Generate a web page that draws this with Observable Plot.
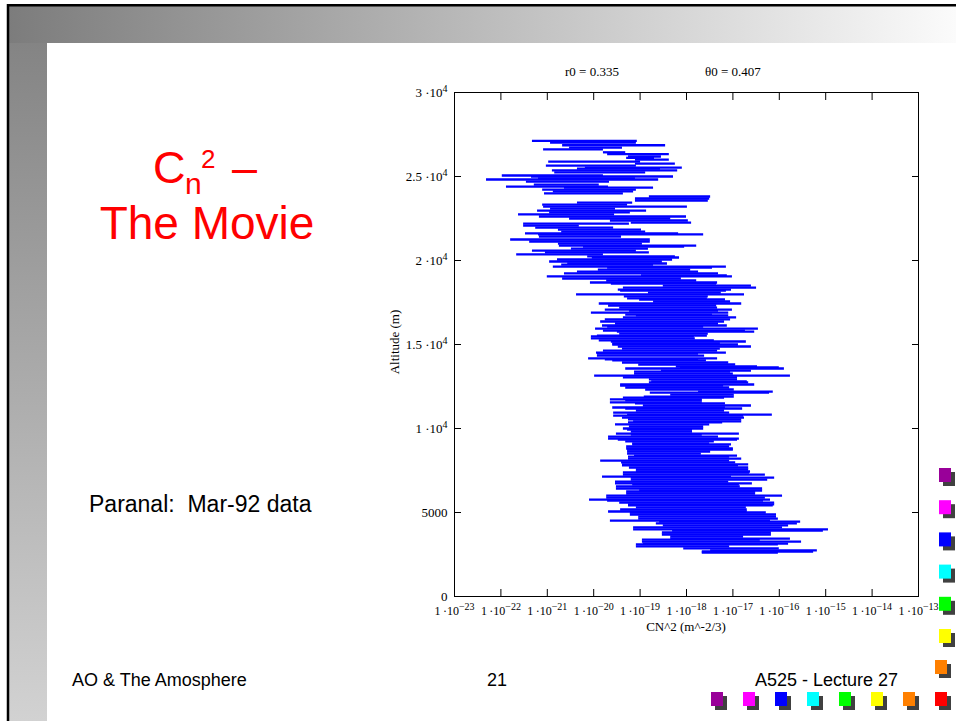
<!DOCTYPE html>
<html><head><meta charset="utf-8">
<script src="https://cdn.jsdelivr.net/npm/d3@7"></script>
<script src="https://cdn.jsdelivr.net/npm/@observablehq/plot@0.6"></script>
<style>
html,body{margin:0;padding:0;background:#fff;}
#slide{position:relative;width:956px;height:721px;overflow:hidden;background:#fff;}
#bg{position:absolute;left:0;top:0;}
#chart{position:absolute;left:370px;top:60px;}
</style></head>
<body>
<div id="slide">
<svg id="bg" width="956" height="721" xmlns="http://www.w3.org/2000/svg">
  <defs>
    <linearGradient id="gTop" x1="0" x2="1" y1="0" y2="0">
      <stop offset="0" stop-color="#7c7c7c"/><stop offset="1" stop-color="#fbfbfb"/>
    </linearGradient>
    <linearGradient id="gLeft" x1="0" x2="0" y1="0" y2="1">
      <stop offset="0" stop-color="#848484"/><stop offset="1" stop-color="#d2d2d2"/>
    </linearGradient>
  </defs>
  <rect x="8" y="5" width="948" height="38" fill="url(#gTop)"/>
  <rect x="8" y="43" width="39" height="678" fill="url(#gLeft)"/>
  <path d="M8,721 V5.2 H956" stroke="#000" stroke-width="2.5" fill="none"/>
  <g font-family="'Liberation Sans', Arial, sans-serif" fill="#ff0000">
    <text x="153" y="183" font-size="45">C</text>
    <text x="185" y="194" font-size="30">n</text>
    <text x="201" y="168" font-size="26">2</text>
    <text x="232" y="183" font-size="45">–</text>
    <text x="207" y="239" font-size="46" text-anchor="middle">The Movie</text>
  </g>
  <g font-family="'Liberation Sans', Arial, sans-serif" fill="#000">
    <text x="89" y="512" font-size="23" xml:space="preserve" style="white-space:pre">Paranal:  Mar-92 data</text>
    <text x="72" y="686" font-size="18">AO &amp; The Amosphere</text>
    <text x="487" y="686" font-size="18">21</text>
    <text x="755" y="686" font-size="18">A525 - Lecture 27</text>
  </g>
  <g font-family="'Liberation Serif', 'Times New Roman', serif" fill="#000" font-size="13">
    <text x="565" y="76">r0 = 0.335</text>
    <text x="705" y="76">θ0 = 0.407</text>
    <text x="686" y="631" text-anchor="middle">CN^2 (m^-2/3)</text>
    <text transform="translate(399,342) rotate(-90)" text-anchor="middle">Altitude (m)</text>
  </g>
  <g id="squares"></g>
</svg>
<div id="chart"></div>
</div>
<script>
// ---- data: per altitude (m), lower / upper Cn^2 bound as log10 values ----
const altitude = [
27120,27020,26860,26720,26620,26440,26330,26190,26110,26010,
25890,25770,25650,25530,25470,25360,25240,25060,25000,24880,
24820,24700,24520,24400,24340,24220,24110,23990,23810,23690,
23570,23450,23330,23210,23090,22970,22860,22740,22620,22500,
22380,22260,22200,22080,21960,21840,21720,21610,21550,21430,
21250,
21130,21010,20890,20830,20710,20590,20480,20360,20240,20180,
20060,19940,19820,19760,19640,19580,19460,19340,19230,19110,
19050,18930,18810,18690,18630,18510,18390,18270,18210,18090,
17980,17860,17740,17680,17560,17440,17320,17200,17080,17020,
16900,16780,16730,16610,16490,16370,16250,16130,16070,15950,
15830,15770,15650,15530,15480,15360,15240,15180,15060,15000,
14880,14760,14640,14520,14460,14340,14170,14110,14050,13930,
13810,13690,13630,13570,13450,13390,13270,13150,13040,12920,
12800,12740,12620,12560,12440,12320,12200,12140,12020,11900,
11840,11730,11670,11550,11490,11370,11250,11190,11070,10950,
10830,10770,10650,10540,10420,10360,10240,10120,10000,9940,
9820,9700,9640,9520,9400,9345,9230,9110,9050,8930,
8810,8750,
8630,8510,8390,8330,8210,8090,7980,7860,7800,7680,
7560,7440,7380,7260,7140,7080,6960,6840,6730,6670,
6550,6430,6310,6250,6130,6010,5890,5770,5710,5590,
5480,5420,5300,5180,5060,5000,4880,4760,4640,4520,
4460,4350,4230,4110,3990,3930,3810,3690,3570,3450,
3390,3270,3150,3100,2980,2860,2740,2680,2620];

const logCnLow = [
-21.32,-20.93,-20.67,-20.52,-21.08,-19.79,-19.70,-19.25,-19.29,-19.10,
-20.97,-19.10,-21.02,-20.18,-20.35,-20.89,-20.84,-21.97,-21.34,-21.19,
-22.31,-21.45,-21.28,-21.88,-20.63,-21.10,-20.87,-21.06,-18.80,-19.10,
-19.10,-20.35,-21.10,-21.08,-20.93,-21.21,-20.95,-21.62,-21.17,-20.52,
-19.64,-19.19,-21.51,-21.51,-21.25,-20.76,-20.69,-21.47,-21.19,-21.17,
-21.79,
-21.38,-20.76,-20.74,-20.22,-20.48,-21.32,-21.04,-21.66,-20.13,-20.03,
-20.78,-20.95,-20.56,-20.69,-20.87,-19.70,-19.90,-20.35,-20.63,-18.97,
-21.00,-20.67,-19.72,-20.07,-19.62,-18.50,-19.36,-19.47,-19.42,-18.82,
-20.37,-19.34,-19.27,-19.01,-18.71,-19.88,-19.68,-19.44,-19.75,-19.23,
-20.05,-19.31,-19.08,-19.36,-19.75,-19.85,-19.53,-19.81,-19.70,-19.96,
-19.79,-19.49,-19.44,-19.92,-20.05,-20.05,-19.88,-19.62,-19.59,-19.59,
-19.47,-19.38,-19.79,-19.94,-19.92,-19.92,-20.11,-19.75,-19.59,-19.38,
-19.03,-18.22,-18.13,-19.31,-18.54,-19.12,-19.12,-19.98,-19.36,-18.80,
-18.75,-18.80,-19.42,-19.42,-19.31,-18.88,-17.74,-18.78,-18.34,-18.91,
-19.36,-19.64,-19.31,-19.64,-19.10,-18.93,-19.59,-19.31,-19.08,-19.57,
-19.27,-19.57,-19.38,-19.25,-19.14,-19.25,-19.53,-19.23,-19.36,-19.27,
-19.19,-19.51,-19.19,-19.68,-19.68,-19.47,-19.31,-19.16,-19.16,-19.29,
-19.29,-19.27,
-19.27,-19.27,-19.12,-19.25,-19.25,-19.85,-19.40,-19.38,-19.38,-19.23,
-19.08,-19.08,-19.36,-19.36,-19.81,-19.19,-19.19,-19.53,-19.53,-19.16,
-19.51,-19.51,-19.01,-19.29,-19.29,-19.72,-19.72,-20.09,-19.70,-19.44,
-19.25,-19.25,-19.08,-19.42,-19.68,-19.21,-19.21,-19.03,-19.03,-19.64,
-18.58,-18.65,-18.50,-19.14,-19.14,-18.30,-18.52,-18.52,-18.34,-18.34,
-18.95,-18.95,-18.93,-19.08,-19.08,-18.06,-17.48,-17.66,-17.66];

const logCnHigh = [
-19.06,-19.08,-18.45,-19.38,-19.79,-19.31,-18.37,-18.54,-18.69,-18.37,
-18.99,-18.24,-19.08,-18.09,-18.56,-18.19,-18.88,-19.79,-18.28,-19.10,
-18.60,-19.66,-19.88,-19.68,-18.71,-19.08,-19.14,-19.36,-17.48,-17.50,
-17.53,-19.16,-19.27,-17.98,-19.53,-18.86,-19.21,-19.55,-18.00,-18.34,
-17.96,-17.89,-19.23,-20.31,-19.57,-18.97,-18.88,-18.17,-17.63,-19.40,
-18.78,
-18.78,-18.95,-17.78,-18.04,-18.82,-19.08,-18.80,-19.79,-18.24,-18.15,
-18.30,-18.52,-18.41,-18.71,-17.14,-17.44,-17.91,-17.74,-17.31,-17.12,
-17.01,-18.11,-17.78,-17.33,-17.35,-16.60,-16.49,-17.03,-17.14,-17.25,
-16.75,-17.53,-17.55,-17.16,-17.05,-16.81,-17.35,-17.33,-17.01,-17.31,
-17.09,-17.44,-17.09,-16.92,-17.05,-17.18,-17.31,-17.12,-17.63,-16.45,
-16.73,-16.53,-17.53,-17.55,-17.83,-17.81,-17.40,-16.71,-17.27,-16.88,
-16.60,-17.27,-17.33,-17.14,-17.74,-17.61,-17.33,-17.74,-17.57,-17.09,
-16.94,-16.47,-16.00,-15.89,-16.60,-17.05,-16.99,-15.76,-16.90,-16.90,
-16.69,-16.66,-16.53,-17.20,-17.07,-16.97,-16.13,-16.21,-16.97,-16.97,
-17.18,-17.66,-17.66,-17.66,-17.16,-16.60,-17.16,-16.79,-17.18,-17.07,
-16.15,-16.77,-16.75,-16.81,-16.81,-17.22,-17.50,-17.63,-17.63,-17.87,
-17.87,-16.86,-17.66,-17.31,-16.86,-16.90,-17.40,-17.50,-17.03,-17.07,
-16.99,-16.99,
-17.48,-17.68,-16.90,-17.07,-16.81,-17.07,-16.94,-16.66,-16.88,-16.66,
-16.66,-16.62,-16.64,-16.30,-17.03,-16.10,-16.25,-17.09,-16.58,-16.86,
-16.84,-16.36,-16.36,-16.51,-16.51,-15.93,-16.30,-16.19,-16.34,-16.10,
-16.10,-16.13,-16.71,-16.69,-16.69,-16.28,-16.06,-16.06,-16.02,-16.19,
-15.54,-15.61,-15.80,-15.93,-14.94,-15.05,-16.17,-16.17,-16.77,-15.76,
-16.41,-15.52,-15.80,-16.02,-17.07,-16.00,-15.18,-15.26,-16.02];

// axes
const xTickValues = [1e-23,1e-22,1e-21,1e-20,1e-19,1e-18,1e-17,1e-16,1e-15,1e-14,1e-13];
const xTickLabels = ["1\u2009·10^−23","1\u2009·10^−22","1\u2009·10^−21","1\u2009·10^−20","1\u2009·10^−19","1\u2009·10^−18","1\u2009·10^−17","1\u2009·10^−16","1\u2009·10^−15","1\u2009·10^−14","1\u2009·10^−13"];
const yTickValues = [0,5000,10000,15000,20000,25000,30000];
const yTickLabels = ["0","5000","1 ·10^4","1.5 ·10^4","2 ·10^4","2.5 ·10^4","3 ·10^4"];

// slide decoration squares
const squareColors = ["#990099","#ff00ff","#0000ff","#00ffff","#00ff00","#ffff00","#ff8000","#ff0000"];

const rows = altitude.map((a, i) => ({alt: a, lo: 10 ** logCnLow[i], hi: 10 ** logCnHigh[i]}));

const plot = Plot.plot({
  width: 570, height: 590,
  marginLeft: 84, marginRight: 22, marginTop: 32, marginBottom: 54,
  style: {fontFamily: "'Liberation Serif', 'Times New Roman', serif", fontSize: "13px", color: "#000", background: "transparent", overflow: "visible"},
  x: {type: "log", domain: [1e-23, 1e-13]},
  y: {domain: [0, 30000]},
  marks: [
    Plot.ruleY(rows, {y: "alt", x1: "lo", x2: "hi", stroke: "#0000ff", strokeWidth: 2.3}),
    Plot.frame({stroke: "#000", strokeWidth: 1}),
    Plot.axisX(xTickValues, {anchor: "bottom", tickSize: -7, tickFormat: () => "", label: null}),
    Plot.axisX(xTickValues, {anchor: "top", tickSize: -7, tickFormat: () => "", label: null}),
    Plot.axisY(yTickValues, {anchor: "left", tickSize: -7, tickFormat: () => "", label: null}),
    Plot.axisY(yTickValues, {anchor: "right", tickSize: -7, tickFormat: () => "", label: null}),
    Plot.text(xTickValues, {x: d => d, text: (d, i) => xTickLabels[i], frameAnchor: "bottom", dy: 18, fontSize: 12}),
    Plot.axisY(yTickValues, {anchor: "left", tickSize: 0, tickPadding: 7, fontSize: 13, tickFormat: (d, i) => yTickLabels[i], label: null})
  ]
});
document.getElementById("chart").appendChild(plot);

// superscripts on tick labels
const NS = "http://www.w3.org/2000/svg";
plot.querySelectorAll("text").forEach(t => {
  const s = t.textContent;
  const i = s.indexOf("^");
  if (i < 0) return;
  t.textContent = s.slice(0, i);
  const sp = document.createElementNS(NS, "tspan");
  sp.setAttribute("dy", "-0.45em");
  sp.setAttribute("font-size", "10");
  sp.textContent = s.slice(i + 1);
  t.appendChild(sp);
});

// squares with shadows
const sq = document.getElementById("squares");
function square(x, y, c) {
  const sh = document.createElementNS(NS, "rect");
  sh.setAttribute("x", x + 4); sh.setAttribute("y", y + 4);
  sh.setAttribute("width", 12); sh.setAttribute("height", 14);
  sh.setAttribute("fill", "#404040");
  sq.appendChild(sh);
  const r = document.createElementNS(NS, "rect");
  r.setAttribute("x", x); r.setAttribute("y", y);
  r.setAttribute("width", 12); r.setAttribute("height", 14);
  r.setAttribute("fill", c);
  sq.appendChild(r);
}
squareColors.slice(0, 6).forEach((c, i) => square(939, 468 + i * 32.2, c));
square(935, 660, squareColors[6]);
squareColors.forEach((c, i) => square(711 + i * 32, 692, c));
</script>
</body></html>
